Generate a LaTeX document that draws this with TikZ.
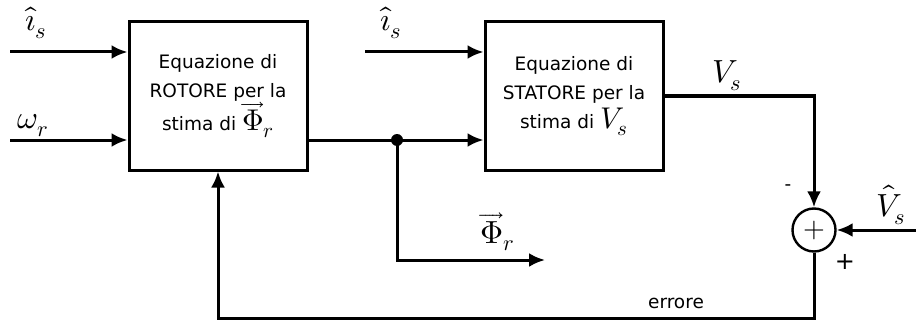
\documentclass[tikz,border=0pt]{standalone}
\usepackage{amsmath}
\usepackage{fontspec}
\usepackage{unicode-math}
\setmathfont{Latin Modern Math}
\newfontfamily\blkfont{DejaVu Sans}
\usetikzlibrary{arrows.meta,positioning,calc}
\newcommand{\bigmath}[1]{{\fontsize{30}{29}\selectfont$#1$}}

\begin{document}
\begin{tikzpicture}[
  x=1pt, y=-1pt,
  arr/.style={-{Latex[length=16pt,width=14pt]}, line width=3pt},
  wire/.style={line width=3pt},
  blk/.style={draw, line width=3pt, minimum width=178pt,
    minimum height=148pt, align=center, inner sep=0pt,
    font=\blkfont\fontsize{18.5}{29}\selectfont},
  sumnode/.style={draw, circle, line width=2.4pt, minimum size=43pt,
    inner sep=0pt, font=\fontsize{28}{28}\selectfont},
  lbl/.style={inner sep=0pt, font=\fontsize{32}{32}\selectfont},
  txt/.style={inner sep=0pt, font=\blkfont\fontsize{18.5}{20}\selectfont},
]
\useasboundingbox (0,0) rectangle (916,321);

% ── blocks ──────────────────────────────────────────────────────────────────
\node[blk] (rot) at (218,96)
  {Equazione di\\ ROTORE per la\\ stima di \bigmath{\overrightarrow{\Phi}_r}};
\node[blk] (sta) at (574,96)
  {Equazione di\\ STATORE per la\\ stima di \bigmath{V_s}};
\node[sumnode] (sum) at (814,230) {$+$};

% ── free ends ───────────────────────────────────────────────────────────────
\coordinate (is1) at (10,52);
\coordinate (wr)  at (10,140);
\coordinate (is2) at (365,52);
\coordinate (j)   at (397,140);
\coordinate (phi) at (545,260);
\coordinate (vh)  at (916,230);
\coordinate (fb)  at (814,318);

% ── arrows ──────────────────────────────────────────────────────────────────
\draw[arr] (is1) -- (is1 -| rot.west);
\draw[arr] (wr)  -- (wr -| rot.west);
\draw[arr] (is2) -- (is2 -| sta.west);
\draw[wire] (rot.east |- j) -- (j);
\draw[arr] (j) -- (j -| sta.west);
\fill (j) circle (6pt);
\draw[arr] (j) |- (phi);
\draw[arr] (sta.east) -| (sum.north);
\draw[arr] (vh) -- (sum.east);
% feedback
\draw[arr] (sum.south) -- (fb) -| (rot.south);

% ── labels ──────────────────────────────────────────────────────────────────
\node[lbl] (lis1) at (36,23) {$\hat{\imath}_s$};
\node[lbl] (lwr)  at (33,126) {$\omega_r$};
\node[lbl] (lis2) at (391,23) {$\hat{\imath}_s$};
\node[lbl] (lvs)  at (727,76) {$V_s$};
\node[lbl] (lphi) at (497,232) {$\overrightarrow{\Phi}_r$};
\node[lbl] (lvh)  at (891,205) {$\hat{V}_s$};
\node[txt] (lmin) at (788,188) {-};
\node[txt, font=\blkfont\fontsize{24}{24}\selectfont] (lplus) at (845,262) {+};
\node[txt] (lerr) at (676,303) {errore};
\end{tikzpicture}
\end{document}
